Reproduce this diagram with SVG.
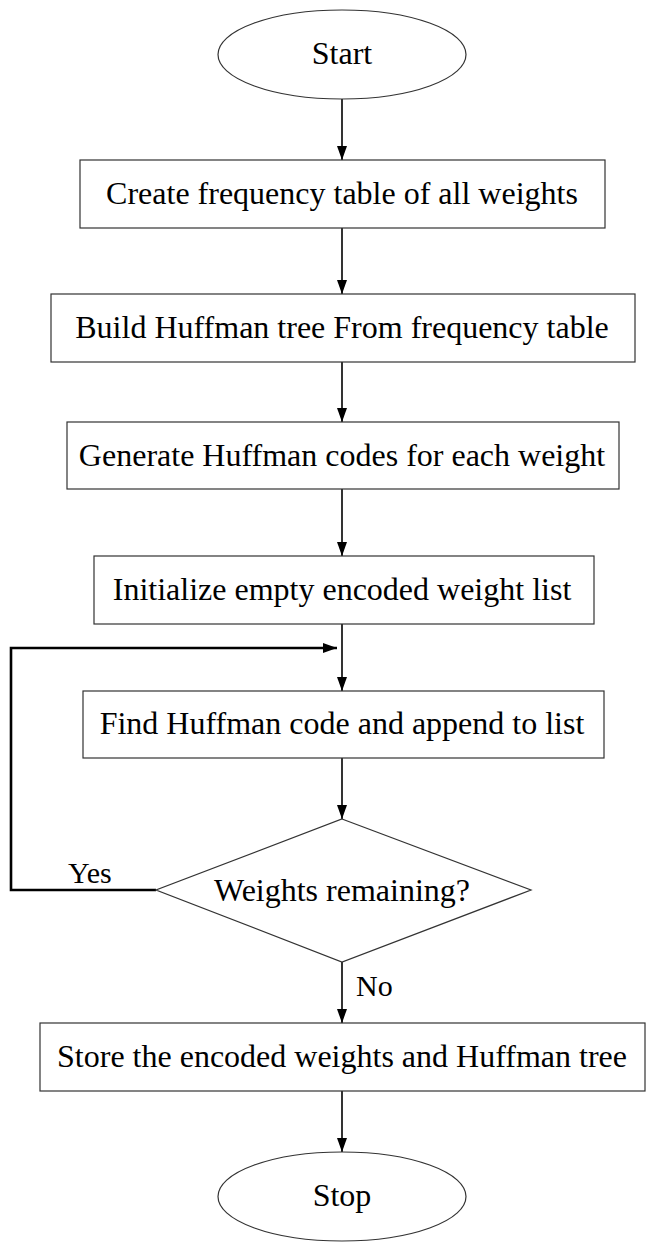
<svg xmlns="http://www.w3.org/2000/svg" width="655" height="1252" viewBox="0 0 655 1252">
<style>
.shape{fill:#fff;stroke:#333;stroke-width:1.2}
.lbl{font-size:32px;fill:#000;text-anchor:middle}
.side{font-size:30px;fill:#000}
.conn{fill:none;stroke:#000;stroke-width:1.6}
.loop{fill:none;stroke:#000;stroke-width:2.6}
</style>
<defs>
<marker id="arr" viewBox="0 0 14 10" refX="14" refY="5" markerWidth="14" markerHeight="10" markerUnits="userSpaceOnUse" orient="auto">
<path d="M0,0 L14,5 L0,10 Z" fill="#000"/>
</marker>
</defs>
<rect width="655" height="1252" fill="#fff"/>
<g id="connectors">
<line class="conn" x1="342" y1="99" x2="342" y2="160" marker-end="url(#arr)"/>
<line class="conn" x1="342" y1="228" x2="342" y2="294" marker-end="url(#arr)"/>
<line class="conn" x1="342" y1="362" x2="342" y2="422" marker-end="url(#arr)"/>
<line class="conn" x1="342" y1="489" x2="342" y2="556" marker-end="url(#arr)"/>
<line class="conn" x1="342" y1="624" x2="342" y2="691" marker-end="url(#arr)"/>
<line class="conn" x1="342" y1="758" x2="342" y2="819" marker-end="url(#arr)"/>
<line class="conn" x1="342" y1="962" x2="342" y2="1023" marker-end="url(#arr)"/>
<line class="conn" x1="342" y1="1091" x2="342" y2="1152" marker-end="url(#arr)"/>
<path class="loop" d="M156,890 H11 V648 H337" marker-end="url(#arr)"/>
</g>
<g id="labels" font-family="Liberation Serif, DejaVu Serif, serif">
<text class="side" x="68" y="883">Yes</text>
<text class="side" x="356" y="996">No</text>
</g>
<g id="start" font-family="Liberation Serif, DejaVu Serif, serif">
<ellipse class="shape" cx="342" cy="54.5" rx="124" ry="44.5"/>
<text class="lbl" x="342" y="64">Start</text>
</g>
<g id="create-table" font-family="Liberation Serif, DejaVu Serif, serif">
<rect class="shape" x="80" y="160" width="525" height="68"/>
<text class="lbl" x="342" y="204">Create frequency table of all weights</text>
</g>
<g id="build-tree" font-family="Liberation Serif, DejaVu Serif, serif">
<rect class="shape" x="51" y="294" width="584" height="68"/>
<text class="lbl" x="342" y="338">Build Huffman tree From frequency table</text>
</g>
<g id="generate-codes" font-family="Liberation Serif, DejaVu Serif, serif">
<rect class="shape" x="67" y="422" width="552" height="67"/>
<text class="lbl" x="342" y="466">Generate Huffman codes for each weight</text>
</g>
<g id="init-list" font-family="Liberation Serif, DejaVu Serif, serif">
<rect class="shape" x="94" y="556" width="500" height="68"/>
<text class="lbl" x="342" y="600">Initialize empty encoded weight list</text>
</g>
<g id="find-code" font-family="Liberation Serif, DejaVu Serif, serif">
<rect class="shape" x="83" y="691" width="521" height="67"/>
<text class="lbl" x="342" y="734">Find Huffman code and append to list</text>
</g>
<g id="decision" font-family="Liberation Serif, DejaVu Serif, serif">
<polygon class="shape" points="342,819 531,890 342,962 156,890"/>
<text class="lbl" x="342" y="901">Weights remaining?</text>
</g>
<g id="store" font-family="Liberation Serif, DejaVu Serif, serif">
<rect class="shape" x="40" y="1023" width="605" height="68"/>
<text class="lbl" x="342" y="1067">Store the encoded weights and Huffman tree</text>
</g>
<g id="stop" font-family="Liberation Serif, DejaVu Serif, serif">
<ellipse class="shape" cx="342" cy="1196.5" rx="124" ry="44.5"/>
<text class="lbl" x="342" y="1206">Stop</text>
</g>
</svg>
